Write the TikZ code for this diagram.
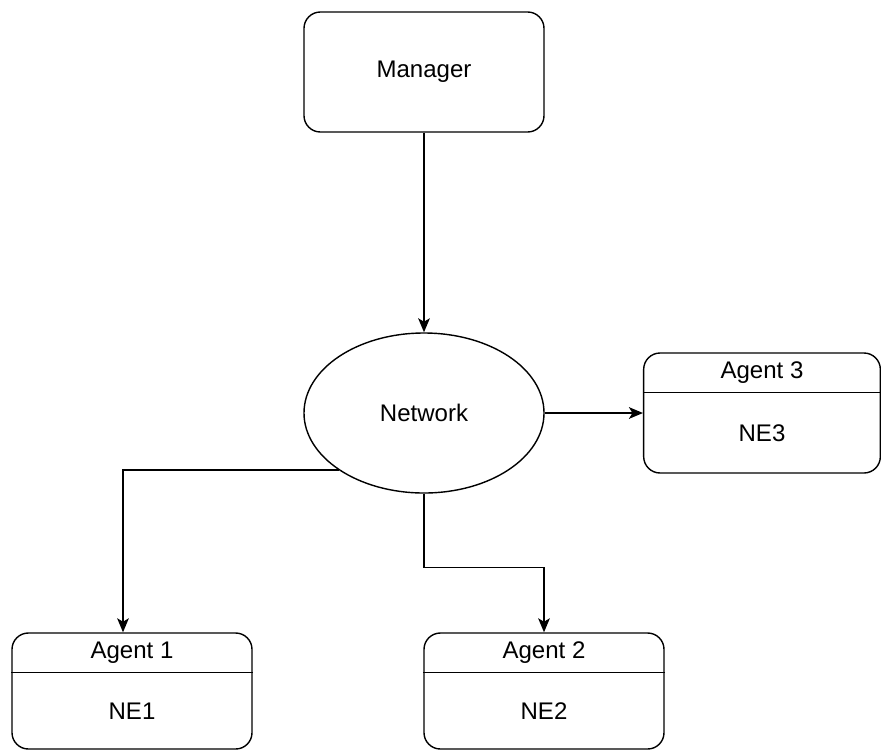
\documentclass[tikz,border=0pt]{standalone}
\usepackage{fontspec}
\setmainfont{Liberation Sans}
\usetikzlibrary{shapes.geometric,arrows.meta}
\begin{document}
\begin{tikzpicture}[x=0.03cm,y=-0.03cm,
  every node/.style={font=\fontsize{20.5}{24}\selectfont},
  box/.style={draw,line width=1.2pt,rounded corners=14pt,minimum width=7.2cm,minimum height=3.6cm,inner sep=0pt},
  netellipse/.style={draw,line width=1.2pt,ellipse,minimum width=7.2cm,minimum height=4.8cm,inner sep=0pt},
  head/.style={anchor=north,minimum height=1.2cm,inner sep=0pt},
  divider/.style={line width=1.2pt},
  link/.style={line width=1.2pt,-{Stealth[length=12pt,width=10pt,inset=3pt]}}]
\useasboundingbox (0,0) rectangle (881,751);
\node[box] (mgr) at (424,72) {Manager};
\node[netellipse] (net) at (424,413) {Network};
\node[box,minimum width=7.1cm] (a3) at (762,413) {};
\node[head] (a3h) at (a3.north) {Agent 3};
\node (a3b) at (762,433) {NE3};
\draw[divider] (a3.west |- a3h.south) -- (a3.east |- a3h.south);
\node[box,minimum height=3.48cm] (a1) at (132,691) {};
\node[head] (a1h) at (a1.north) {Agent 1};
\node (a1b) at (132,711) {NE1};
\draw[divider] (a1.west |- a1h.south) -- (a1.east |- a1h.south);
\node[box,minimum height=3.48cm] (a2) at (544,691) {};
\node[head] (a2h) at (a2.north) {Agent 2};
\node (a2b) at (544,711) {NE2};
\draw[divider] (a2.west |- a2h.south) -- (a2.east |- a2h.south);
\draw[link] (mgr.south) -- (net.north);
\draw[link] (net.east) -- (a3.west);
\draw[link] (net.south west) -| ([xshift=-0.27cm]a1.north);
\draw[link] (net.south) -- ++(0,74) -| (a2.north);
\end{tikzpicture}
\end{document}
